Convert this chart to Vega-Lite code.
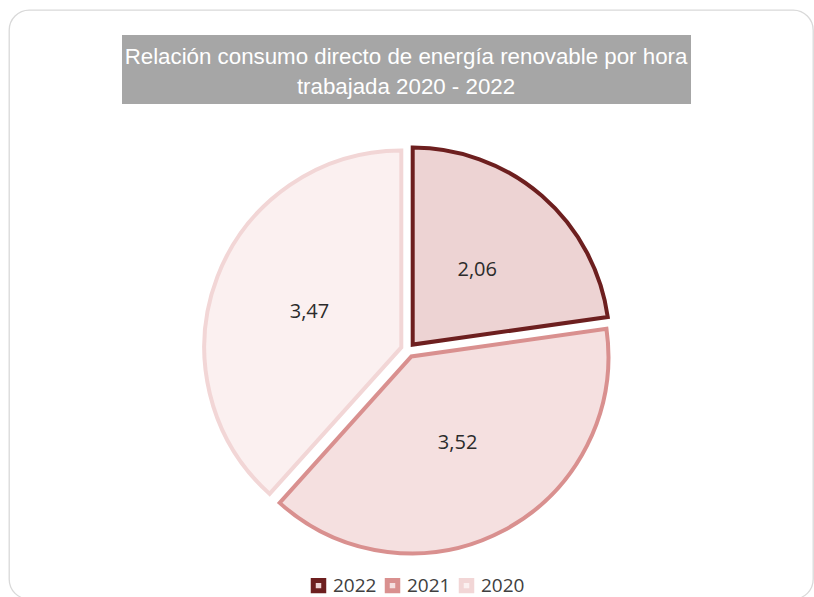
{
  "$schema": "https://vega.github.io/schema/vega-lite/v6.json",
  "background": "white",
  "padding": {"left": 9, "top": 10, "right": 1, "bottom": 0},
  "width": 804,
  "height": 589,
  "view": {"stroke": "#d9d9d9", "strokeWidth": 1.3, "cornerRadius": 20},
  "config": {
    "locale": {"number": {"decimal": ",", "thousands": ".", "grouping": [3], "currency": ["", " €"]}},
    "font": "Open Sans"
  },
  "data": {"values": [
    {"year": "2022", "value": 2.06, "order": 1},
    {"year": "2021", "value": 3.52, "order": 2},
    {"year": "2020", "value": 3.47, "order": 3}
  ]},
  "transform": [
    {"stack": "value", "groupby": [], "sort": [{"field": "order", "order": "ascending"}], "as": ["v0", "v1"]}
  ],
  "layer": [
    {
      "data": {"values": [{"box": 1}]},
      "mark": {"type": "rect", "fill": "#a6a6a6", "x": 113, "x2": 682, "y": 25, "y2": 94},
      "encoding": {}
    },
    {
      "data": {"values": [{"box": 1}]},
      "mark": {
        "type": "text",
        "text": ["Relación consumo directo de energía renovable por hora", "trabajada 2020 - 2022"],
        "font": "Liberation Sans",
        "fontSize": 22.3,
        "fill": "white",
        "lineHeight": 30.6,
        "baseline": "alphabetic",
        "align": "center",
        "x": 397,
        "y": 53.7
      },
      "encoding": {}
    },
    {
      "transform": [{"filter": "datum.year === '2022'"}],
      "mark": {"type": "arc", "radius": 197, "strokeWidth": 4, "strokeJoin": "miter", "x": 403.7, "y": 334.6},
      "encoding": {
        "theta": {"field": "v0", "type": "quantitative", "scale": {"nice": false, "zero": true}},
        "theta2": {"field": "v1"},
        "fill": {"field": "year", "type": "nominal",
          "scale": {"domain": ["2022", "2021", "2020"], "range": ["#edd3d3", "#f5e0e0", "#fbf0f0"]},
          "legend": {"orient": "none", "legendX": 300, "legendY": 566, "direction": "horizontal", "title": null, "symbolType": "square", "symbolSize": 110, "symbolStrokeWidth": 5, "labelFont": "Open Sans", "labelFontSize": 19, "labelColor": "#404040", "columnPadding": 0, "labelOffset": 5}},
        "stroke": {"field": "year", "type": "nominal",
          "scale": {"domain": ["2022", "2021", "2020"], "range": ["#6d1f1f", "#d9908f", "#f2d6d6"]},
          "legend": {"orient": "none", "legendX": 300, "legendY": 566, "direction": "horizontal", "title": null, "symbolType": "square", "symbolSize": 110, "symbolStrokeWidth": 5, "labelFont": "Open Sans", "labelFontSize": 19, "labelColor": "#404040", "columnPadding": 0, "labelOffset": 5}}
      }
    },
    {
      "transform": [{"filter": "datum.year === '2021'"}],
      "mark": {"type": "arc", "radius": 197, "strokeWidth": 4, "strokeJoin": "miter", "x": 402.4, "y": 346.4},
      "encoding": {
        "theta": {"field": "v0", "type": "quantitative", "scale": {"nice": false, "zero": true}},
        "theta2": {"field": "v1"},
        "fill": {"field": "year", "type": "nominal"},
        "stroke": {"field": "year", "type": "nominal"}
      }
    },
    {
      "transform": [{"filter": "datum.year === '2020'"}],
      "mark": {"type": "arc", "radius": 197, "strokeWidth": 4, "strokeJoin": "miter", "x": 392.3, "y": 337.4},
      "encoding": {
        "theta": {"field": "v0", "type": "quantitative", "scale": {"nice": false, "zero": true}},
        "theta2": {"field": "v1"},
        "fill": {"field": "year", "type": "nominal"},
        "stroke": {"field": "year", "type": "nominal"}
      }
    },
    {
      "mark": {"type": "text", "radius": 105.5, "x": 399, "y": 340, "font": "Open Sans", "fontSize": 20, "fill": "#2b2b2b", "baseline": "middle", "align": "center"},
      "encoding": {
        "theta": {"field": "value", "type": "quantitative", "stack": true, "scale": {"nice": false, "zero": true}},
        "order": {"field": "order", "type": "quantitative", "sort": "ascending"},
        "text": {"field": "value", "type": "quantitative", "format": ".2f"}
      }
    }
  ]
}
